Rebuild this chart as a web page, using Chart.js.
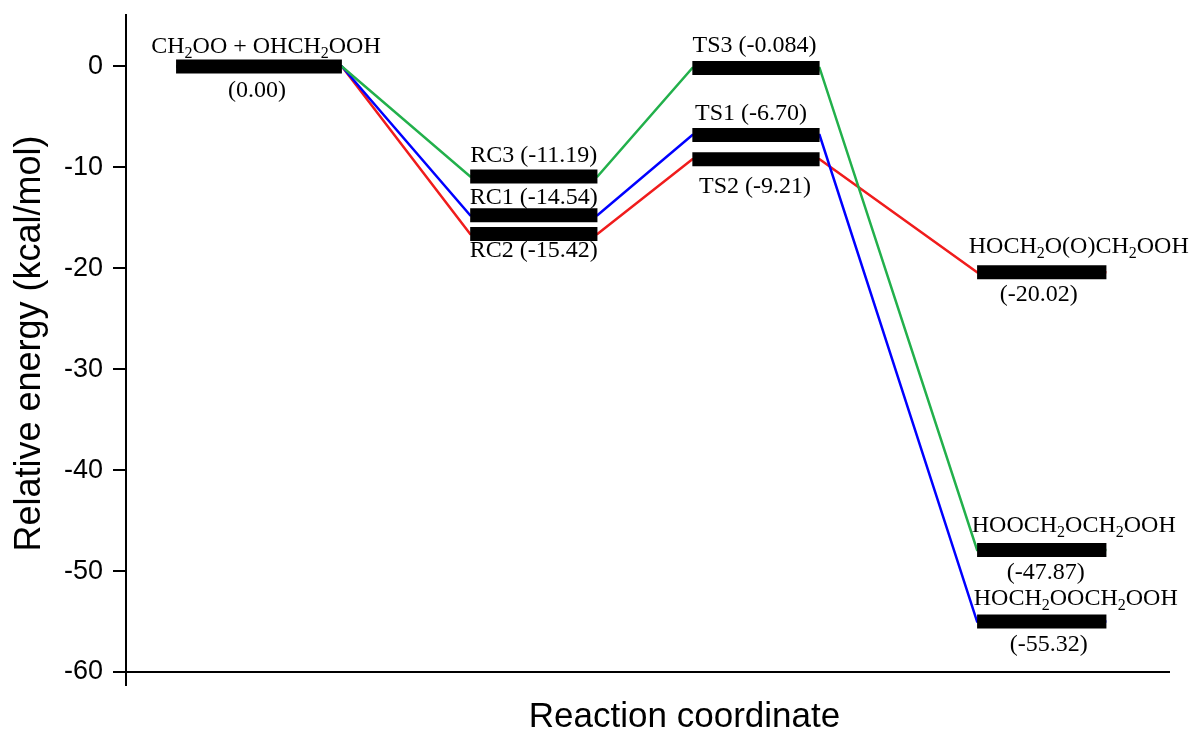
<!DOCTYPE html>
<html>
<head>
<meta charset="utf-8">
<title>Relative energy profile</title>
<script src="https://cdn.jsdelivr.net/npm/chart.js@4.4.1/dist/chart.umd.min.js"></script>
<style>
  html, body { margin: 0; padding: 0; background: #fff; }
  #energyChart { display: block; }
</style>
</head>
<body>
<canvas id="energyChart" width="1192" height="731"></canvas>
<script>
// species on the diagram, "_" marks the next character as a subscript
const species = ['CH_2OO + OHCH_2OOH', 'RC1', 'RC2', 'RC3', 'TS1', 'TS2', 'TS3',
  'HOCH_2O(O)CH_2OOH', 'HOOCH_2OCH_2OOH', 'HOCH_2OOCH_2OOH']
// energies as printed beside each level (kcal/mol)
const energyLabels = ['0.00', '-14.54', '-15.42', '-11.19', '-6.70', '-9.21', '-0.084',
  '-20.02', '-47.87', '-55.32']
// height at which each level is drawn in the figure
const levelEnergy = [0, -14.75, -16.6, -10.9, -6.8, -9.2, -0.15, -20.4, -47.9, -55.0]
// column each level sits in: 0 reactants, 1 RC, 2 TS, 3 products
const levelStage = [0, 1, 1, 1, 2, 2, 2, 3, 3, 3]

// reaction coordinate span of each column
const stageStart = [0.48, 3.30, 5.43, 8.16]
const stageEnd = [2.07, 4.52, 6.65, 9.40]

// pathways, as indices into species
const pathGreen = [0, 3, 6, 8]
const pathBlue = [0, 1, 4, 9]
const pathRed = [0, 2, 5, 7]

const yTicks = [0, -10, -20, -30, -40, -50, -60]

// label nudges in px: [name dx, name dy, value dx, value dy]
const labelOffsets = [
  [7, -13.5, -2, 30.5],
  [0, -11, 0, 0],
  [0, 23, 0, 0],
  [0, -14, 0, 0],
  [-5, -15, 0, 0],
  [-1, 33.5, 0, 0],
  [-1.5, -15.5, 0, 0],
  [37, -19, -3, 28.5],
  [32, -18, 4, 29],
  [34, -17, 7, 29]
]

const serif = '"Liberation Serif", "Times New Roman", serif'
const sans = '"Liberation Sans", Arial, sans-serif'

const levelPoints = i => [
  { x: stageStart[levelStage[i]], y: levelEnergy[i] },
  { x: stageEnd[levelStage[i]], y: levelEnergy[i] }
]

const barDatasets = species.map((name, i) => ({
  label: name,
  data: levelPoints(i),
  borderColor: '#000',
  borderWidth: 14,
  borderCapStyle: 'butt',
  pointRadius: 0,
  order: 0
}))

const pathDataset = (path, color) => ({
  data: path.flatMap(levelPoints),
  borderColor: color,
  borderWidth: 2.5,
  pointRadius: 0,
  order: 1
})

function drawRich(ctx, text, cx, y) {
  const parts = []
  for (let i = 0; i < text.length; i++) {
    if (text[i] === '_') {
      parts.push({ t: text[i + 1], sub: true })
      i++
    } else if (parts.length && !parts[parts.length - 1].sub) {
      parts[parts.length - 1].t += text[i]
    } else {
      parts.push({ t: text[i], sub: false })
    }
  }
  const fontOf = p => (p.sub ? '16px ' : '24px ') + serif
  let total = 0
  parts.forEach(p => {
    ctx.font = fontOf(p)
    p.w = ctx.measureText(p.t).width
    total += p.w
  })
  let x = cx - total / 2
  ctx.textAlign = 'left'
  ctx.textBaseline = 'alphabetic'
  parts.forEach(p => {
    ctx.font = fontOf(p)
    ctx.fillText(p.t, x, p.sub ? y + 5 : y)
    x += p.w
  })
}

const labelPlugin = {
  id: 'levelLabels',
  afterDatasetsDraw(chart) {
    const { ctx, chartArea, scales: { x, y } } = chart
    ctx.save()
    ctx.fillStyle = '#000'
    species.forEach((name, i) => {
      const s = levelStage[i]
      const cx = x.getPixelForValue((stageStart[s] + stageEnd[s]) / 2)
      const cy = y.getPixelForValue(levelEnergy[i])
      const [ndx, ndy, vdx, vdy] = labelOffsets[i]
      const value = '(' + energyLabels[i] + ')'
      if (s === 1 || s === 2) {
        drawRich(ctx, name + ' ' + value, cx + ndx, cy + ndy)
      } else {
        drawRich(ctx, name, cx + ndx, cy + ndy)
        drawRich(ctx, value, cx + vdx, cy + vdy)
      }
    })
    ctx.font = '35px ' + sans
    ctx.textAlign = 'center'
    ctx.fillText('Reaction coordinate', (chartArea.left + chartArea.right) / 2 + 37, 727)
    ctx.restore()
  }
}

new Chart(document.getElementById('energyChart'), {
  type: 'line',
  data: {
    datasets: [
      ...barDatasets,
      pathDataset(pathGreen, '#22b04b'),
      pathDataset(pathBlue, '#0000ff'),
      pathDataset(pathRed, '#f01c1c')
    ]
  },
  options: {
    responsive: false,
    animation: false,
    layout: { padding: { top: 15, right: 23, bottom: 0, left: 0 } },
    plugins: { legend: { display: false }, tooltip: { enabled: false } },
    elements: { line: { tension: 0 } },
    scales: {
      x: {
        type: 'linear',
        min: 0,
        max: 10,
        afterBuildTicks: axis => { axis.ticks = [{ value: axis.min }] },
        afterFit: axis => { axis.height = 59 },
        ticks: { display: false },
        grid: { drawOnChartArea: false, tickLength: 14, color: '#000', lineWidth: 2 },
        border: { color: '#000', width: 2 }
      },
      y: {
        type: 'linear',
        min: -60,
        max: 5.1,
        afterBuildTicks: axis => { axis.ticks = yTicks.map(v => ({ value: v })) },
        afterFit: axis => {
          axis.width = 126
          axis.paddingTop = 0
          axis.paddingBottom = 0
        },
        ticks: { color: '#000', font: { family: sans, size: 27 }, padding: 10 },
        grid: { drawOnChartArea: false, tickLength: 13, color: '#000', lineWidth: 2 },
        border: { color: '#000', width: 2 },
        title: {
          display: true,
          text: 'Relative energy (kcal/mol)',
          color: '#000',
          font: { family: sans, size: 36, lineHeight: 1 },
          padding: { top: 12, bottom: 0 }
        }
      }
    }
  },
  plugins: [labelPlugin]
})
</script>
</body>
</html>
